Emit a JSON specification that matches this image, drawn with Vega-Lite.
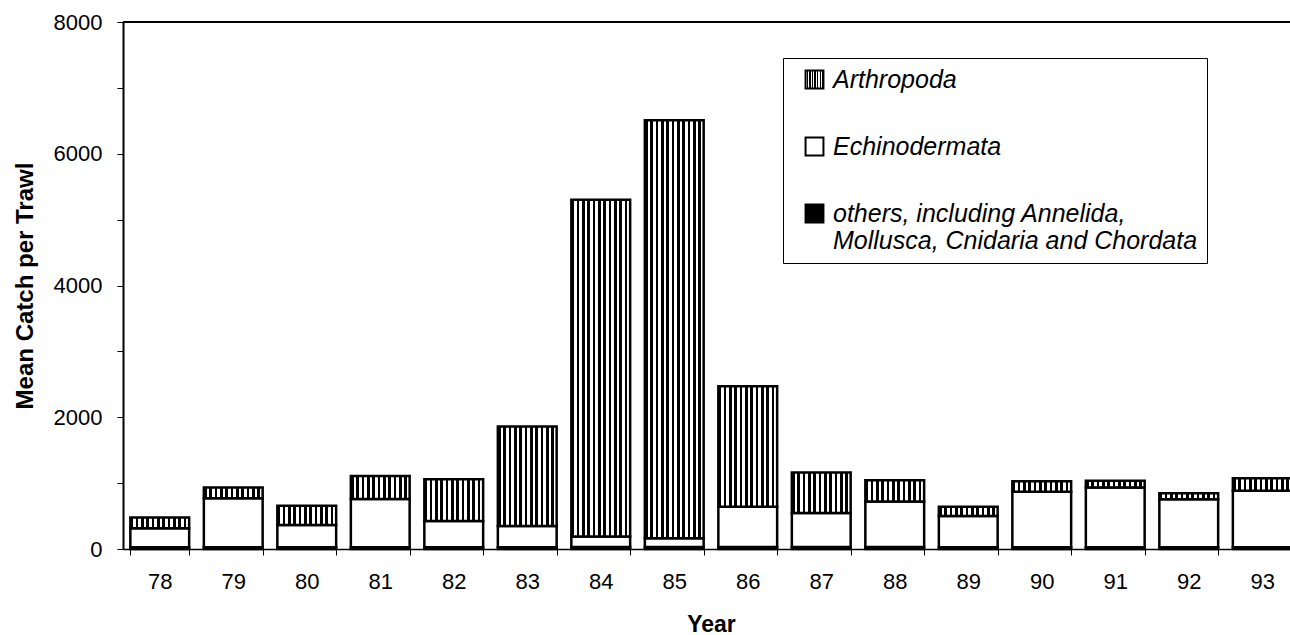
{
  "$schema": "https://vega.github.io/schema/vega-lite/v6.json",
  "width": 1167,
  "height": 527,
  "autosize": "none",
  "padding": {"left": 123, "top": 22, "right": 0, "bottom": 86},
  "background": "white",
  "config": {
    "font": "Liberation Sans",
    "view": {"stroke": null},
    "axis": {"labelFont": "Liberation Sans", "titleFont": "Liberation Sans", "labelColor": "black", "titleColor": "black", "domainColor": "black", "tickColor": "black", "grid": false}
  },
  "data": {
    "values": [
      {"year": "78", "group": "others, including Annelida, Mollusca, Cnidaria and Chordata", "k": 1, "catch": 25},
      {"year": "78", "group": "Echinodermata", "k": 2, "catch": 290},
      {"year": "78", "group": "Arthropoda", "k": 3, "catch": 165},
      {"year": "79", "group": "others, including Annelida, Mollusca, Cnidaria and Chordata", "k": 1, "catch": 25},
      {"year": "79", "group": "Echinodermata", "k": 2, "catch": 745},
      {"year": "79", "group": "Arthropoda", "k": 3, "catch": 165},
      {"year": "80", "group": "others, including Annelida, Mollusca, Cnidaria and Chordata", "k": 1, "catch": 25},
      {"year": "80", "group": "Echinodermata", "k": 2, "catch": 340},
      {"year": "80", "group": "Arthropoda", "k": 3, "catch": 290},
      {"year": "81", "group": "others, including Annelida, Mollusca, Cnidaria and Chordata", "k": 1, "catch": 25},
      {"year": "81", "group": "Echinodermata", "k": 2, "catch": 735},
      {"year": "81", "group": "Arthropoda", "k": 3, "catch": 350},
      {"year": "82", "group": "others, including Annelida, Mollusca, Cnidaria and Chordata", "k": 1, "catch": 25},
      {"year": "82", "group": "Echinodermata", "k": 2, "catch": 400},
      {"year": "82", "group": "Arthropoda", "k": 3, "catch": 635},
      {"year": "83", "group": "others, including Annelida, Mollusca, Cnidaria and Chordata", "k": 1, "catch": 25},
      {"year": "83", "group": "Echinodermata", "k": 2, "catch": 325},
      {"year": "83", "group": "Arthropoda", "k": 3, "catch": 1510},
      {"year": "84", "group": "others, including Annelida, Mollusca, Cnidaria and Chordata", "k": 1, "catch": 30},
      {"year": "84", "group": "Echinodermata", "k": 2, "catch": 160},
      {"year": "84", "group": "Arthropoda", "k": 3, "catch": 5110},
      {"year": "85", "group": "others, including Annelida, Mollusca, Cnidaria and Chordata", "k": 1, "catch": 30},
      {"year": "85", "group": "Echinodermata", "k": 2, "catch": 135},
      {"year": "85", "group": "Arthropoda", "k": 3, "catch": 6345},
      {"year": "86", "group": "others, including Annelida, Mollusca, Cnidaria and Chordata", "k": 1, "catch": 30},
      {"year": "86", "group": "Echinodermata", "k": 2, "catch": 610},
      {"year": "86", "group": "Arthropoda", "k": 3, "catch": 1830},
      {"year": "87", "group": "others, including Annelida, Mollusca, Cnidaria and Chordata", "k": 1, "catch": 30},
      {"year": "87", "group": "Echinodermata", "k": 2, "catch": 515},
      {"year": "87", "group": "Arthropoda", "k": 3, "catch": 615},
      {"year": "88", "group": "others, including Annelida, Mollusca, Cnidaria and Chordata", "k": 1, "catch": 30},
      {"year": "88", "group": "Echinodermata", "k": 2, "catch": 690},
      {"year": "88", "group": "Arthropoda", "k": 3, "catch": 325},
      {"year": "89", "group": "others, including Annelida, Mollusca, Cnidaria and Chordata", "k": 1, "catch": 25},
      {"year": "89", "group": "Echinodermata", "k": 2, "catch": 475},
      {"year": "89", "group": "Arthropoda", "k": 3, "catch": 140},
      {"year": "90", "group": "others, including Annelida, Mollusca, Cnidaria and Chordata", "k": 1, "catch": 25},
      {"year": "90", "group": "Echinodermata", "k": 2, "catch": 845},
      {"year": "90", "group": "Arthropoda", "k": 3, "catch": 160},
      {"year": "91", "group": "others, including Annelida, Mollusca, Cnidaria and Chordata", "k": 1, "catch": 25},
      {"year": "91", "group": "Echinodermata", "k": 2, "catch": 910},
      {"year": "91", "group": "Arthropoda", "k": 3, "catch": 100},
      {"year": "92", "group": "others, including Annelida, Mollusca, Cnidaria and Chordata", "k": 1, "catch": 25},
      {"year": "92", "group": "Echinodermata", "k": 2, "catch": 730},
      {"year": "92", "group": "Arthropoda", "k": 3, "catch": 90},
      {"year": "93", "group": "others, including Annelida, Mollusca, Cnidaria and Chordata", "k": 1, "catch": 25},
      {"year": "93", "group": "Echinodermata", "k": 2, "catch": 860},
      {"year": "93", "group": "Arthropoda", "k": 3, "catch": 190}
    ]
  },
  "layer": [
    {
      "mark": {"type": "bar", "stroke": "black", "strokeWidth": 2.5, "strokeJoin": "miter"},
      "encoding": {
        "x": {
          "field": "year", "type": "ordinal", "sort": null,
          "scale": {"range": [0, 1176], "paddingInner": 0.2, "paddingOuter": 0.1},
          "axis": {"title": "Year", "labelAngle": 0, "labelFontSize": 22, "titleFontSize": 23, "titleFontWeight": "bold", "tickSize": 6, "tickBand": "extent", "labelPadding": 16, "titlePadding": 21, "domainWidth": 1.5, "tickWidth": 1}
        },
        "y": {
          "field": "catch", "type": "quantitative", "stack": "zero",
          "scale": {"domain": [0, 8000], "nice": false},
          "axis": {"title": "Mean Catch per Trawl", "values": [0, 1000, 2000, 3000, 4000, 5000, 6000, 7000, 8000], "format": "d", "labelExpr": "datum.value % 2000 == 0 ? datum.label : ''", "labelFontSize": 22, "titleFontSize": 24, "titleFontWeight": "bold", "tickSize": 6, "labelPadding": 15, "titlePadding": 16, "domainWidth": 2, "tickWidth": 1}
        },
        "fill": {
          "field": "group", "type": "nominal",
          "scale": {
            "domain": ["Arthropoda", "Echinodermata", "others, including Annelida, Mollusca, Cnidaria and Chordata"],
            "range": [
              {"expr": "{gradient: 'linear', x1: 0, y1: 0, x2: 1, y2: 0, stops: [{offset: 0, color: 'black'}, {offset: 0.0455, color: 'black'}, {offset: 0.0455, color: 'white'}, {offset: 0.0909, color: 'white'}, {offset: 0.0909, color: 'black'}, {offset: 0.1364, color: 'black'}, {offset: 0.1364, color: 'white'}, {offset: 0.1818, color: 'white'}, {offset: 0.1818, color: 'black'}, {offset: 0.2273, color: 'black'}, {offset: 0.2273, color: 'white'}, {offset: 0.2727, color: 'white'}, {offset: 0.2727, color: 'black'}, {offset: 0.3182, color: 'black'}, {offset: 0.3182, color: 'white'}, {offset: 0.3636, color: 'white'}, {offset: 0.3636, color: 'black'}, {offset: 0.4091, color: 'black'}, {offset: 0.4091, color: 'white'}, {offset: 0.4545, color: 'white'}, {offset: 0.4545, color: 'black'}, {offset: 0.5, color: 'black'}, {offset: 0.5, color: 'white'}, {offset: 0.5455, color: 'white'}, {offset: 0.5455, color: 'black'}, {offset: 0.5909, color: 'black'}, {offset: 0.5909, color: 'white'}, {offset: 0.6364, color: 'white'}, {offset: 0.6364, color: 'black'}, {offset: 0.6818, color: 'black'}, {offset: 0.6818, color: 'white'}, {offset: 0.7273, color: 'white'}, {offset: 0.7273, color: 'black'}, {offset: 0.7727, color: 'black'}, {offset: 0.7727, color: 'white'}, {offset: 0.8182, color: 'white'}, {offset: 0.8182, color: 'black'}, {offset: 0.8636, color: 'black'}, {offset: 0.8636, color: 'white'}, {offset: 0.9091, color: 'white'}, {offset: 0.9091, color: 'black'}, {offset: 0.9545, color: 'black'}, {offset: 0.9545, color: 'white'}, {offset: 1, color: 'white'}]}"},
              "white",
              "black"
            ]
          },
          "legend": {
            "title": null,
            "orient": "none",
            "legendX": 660,
            "legendY": 36,
            "direction": "vertical",
            "padding": 9,
            "strokeColor": "black",
            "fillColor": "white",
            "symbolType": "square",
            "symbolSize": 320,
            "symbolStrokeColor": "black",
            "symbolStrokeWidth": 2,
            "symbolOffset": 10,
            "labelOffset": 6,
            "labelFont": "Liberation Sans",
            "labelFontStyle": "italic",
            "labelFontSize": 25,
            "labelColor": "black",
            "labelLimit": 600,
            "rowPadding": 40,
            "labelExpr": "indexof(datum.value, 'others') == 0 ? ['others, including Annelida,', 'Mollusca, Cnidaria and Chordata'] : datum.value"
          }
        },
        "order": {"field": "k", "type": "quantitative"}
      }
    },
    {
      "mark": {"type": "rule", "color": "black", "strokeWidth": 1.5},
      "encoding": {
        "y": {"datum": 8000, "type": "quantitative", "title": "Mean Catch per Trawl"}
      }
    }
  ]
}
